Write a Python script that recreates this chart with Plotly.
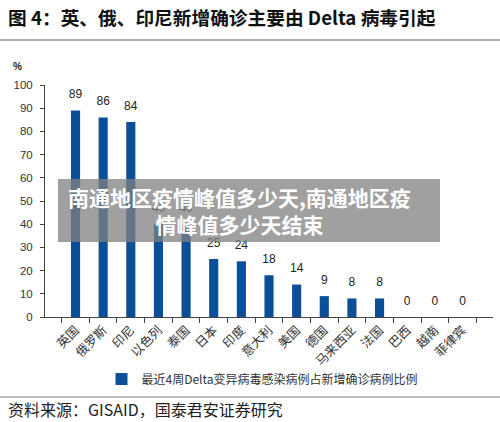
import plotly.graph_objects as go

countries = ["英国", "俄罗斯", "印尼", "以色列", "泰国", "日本", "印度", "意大利",
             "美国", "德国", "马来西亚", "法国", "巴西", "越南", "菲律宾"]
delta_share = [89, 86, 84, 40, 40, 25, 24, 18, 14, 9, 8, 8, 0, 0, 0]
series_name = "最近4周Delta变异病毒感染病例占新增确诊病例比例"
title_text = "图 4：英、俄、印尼新增确诊主要由 Delta 病毒引起"
source_text = "资料来源：GISAID，国泰君安证券研究"
overlay_text = "南通地区疫情峰值多少天,南通地区疫<br>情峰值多少天结束"

W, H = 500, 422
L, R, T, B = 45, 7, 85, 105
PW, PH = W - L - R, H - T - B
BAR = "#0b4f98"
CJK = "Noto Sans CJK SC, Noto Sans, sans-serif"
NUM = "Liberation Sans, Arial, sans-serif"

fig = go.Figure()
fig.add_trace(go.Bar(
    x=countries, y=delta_share, name=series_name,
    marker=dict(color=BAR, line=dict(width=0)),
    width=0.33,
))
fig.add_trace(go.Scatter(
    x=countries, y=delta_share, mode="markers+text",
    marker=dict(size=13, opacity=0),
    text=[str(v) for v in delta_share], textposition="top center",
    textfont=dict(family=NUM, size=12, color="#222"),
    showlegend=False, hoverinfo="skip", cliponaxis=False,
))

def px_x(p):
    return (p - L) / PW

def px_y(p):
    return (H - B - p) / PH

fig.update_layout(
    width=W, height=H,
    margin=dict(l=L, r=R, t=T, b=B, pad=0),
    paper_bgcolor="white", plot_bgcolor="white",
    showlegend=True,
    legend=dict(orientation="h", x=px_x(262), xanchor="center", y=px_y(379), yanchor="middle",
                font=dict(family=CJK, size=12, color="#333"),
                itemwidth=30, bgcolor="rgba(0,0,0,0)", traceorder="normal"),
    xaxis=dict(showgrid=False, showline=True, linecolor="#444", linewidth=1,
               ticks="outside", tickson="boundaries", ticklen=5, tickcolor="#444",
               tickangle=-45, tickfont=dict(family=CJK, size=12.5, color="#333")),
    yaxis=dict(range=[0, 100], dtick=10, showgrid=False, showline=True, linecolor="#444",
               linewidth=1, ticks="outside", ticklen=4, tickcolor="#444",
               ticklabelstandoff=5,
               tickfont=dict(family=NUM, size=11.5, color="#333"),
               zeroline=False, fixedrange=True),
)

shapes = [
    dict(type="line", xref="paper", yref="paper", x0=px_x(0), x1=px_x(W),
         y0=px_y(40), y1=px_y(40), line=dict(color="#999", width=1.5)),
    dict(type="line", xref="paper", yref="paper", x0=px_x(0), x1=px_x(W),
         y0=px_y(397), y1=px_y(397), line=dict(color="#777", width=1)),
    dict(type="rect", xref="paper", yref="paper", x0=px_x(58), x1=px_x(440),
         y0=px_y(242), y1=px_y(179), fillcolor="rgba(128,128,128,0.75)",
         line=dict(width=0), layer="above"),
]
fig.update_layout(shapes=shapes)

anns = [
    dict(text="<b>" + title_text + "</b>", x=px_x(6), y=px_y(16), xanchor="left", yanchor="middle",
         font=dict(family=CJK, size=18.7, color="#111")),
    dict(text="<b>%</b>", x=px_x(17), y=px_y(66), xanchor="center", yanchor="middle",
         font=dict(family=NUM, size=10, color="#222")),
    dict(text=source_text, x=px_x(6), y=px_y(409), xanchor="left", yanchor="middle",
         font=dict(family=CJK, size=16, color="#222")),
    dict(text="<b>" + overlay_text + "</b>", x=px_x(239), y=px_y(210), xanchor="center",
         yanchor="middle", font=dict(family=CJK, size=21, color="white"), align="center"),
]
for a in anns:
    a.update(xref="paper", yref="paper", showarrow=False)
fig.update_layout(annotations=anns)

fig.write_html("out.html", config={"displayModeBar": False},
               post_script="document.body.style.margin='0';")
